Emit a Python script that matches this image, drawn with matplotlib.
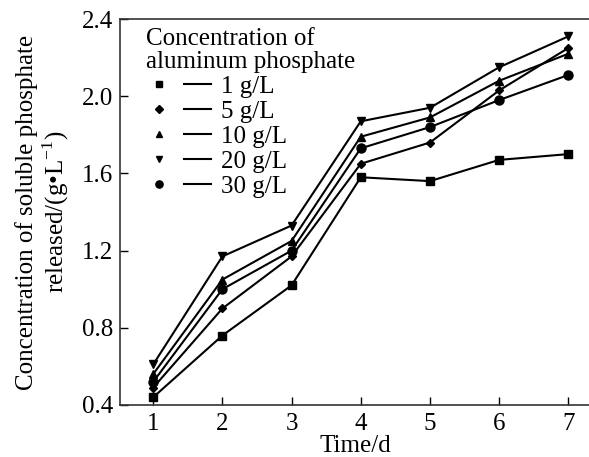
import numpy as np
import matplotlib.pyplot as plt
from matplotlib.lines import Line2D
from matplotlib.legend_handler import HandlerTuple

plt.rcParams['font.family'] = ['Liberation Serif', 'DejaVu Serif']
plt.rcParams['mathtext.fontset'] = 'custom'
plt.rcParams['mathtext.rm'] = 'Liberation Serif'

# data
days = [1, 2, 3, 4, 5, 6, 7]
c1 = [0.44, 0.76, 1.02, 1.58, 1.56, 1.67, 1.70]
c5 = [0.49, 0.90, 1.17, 1.65, 1.76, 2.03, 2.25]
c10 = [0.56, 1.05, 1.25, 1.79, 1.89, 2.08, 2.22]
c20 = [0.61, 1.17, 1.33, 1.87, 1.94, 2.15, 2.31]
c30 = [0.52, 1.00, 1.20, 1.73, 1.84, 1.98, 2.11]

series = [c1, c5, c10, c20, c30]
labels = ['1 g/L', '5 g/L', '10 g/L', '20 g/L', '30 g/L']
markers = ['s', 'D', '^', 'v', 'o']
msizes = [6, 4.5, 6, 6, 6.5]

fig = plt.figure(figsize=(5.89, 4.57), dpi=100)
ax = fig.add_axes([0.2037, 0.1138, 0.80, 0.8446])

handles = []
for y, lab, m, ms in zip(series, labels, markers, msizes):
    ax.plot(days, y, color='black', lw=1.5, marker=m, markersize=ms)
    h_m = Line2D([], [], color='black', marker=m, markersize=ms * 0.8, linestyle='none')
    h_l = Line2D([], [], color='black', lw=1.5)
    handles.append((h_m, h_l))

ax.set_xlim(0.52, 7.33)
ax.set_ylim(0.4, 2.4)
ax.set_xticks(days)
ax.set_yticks([0.4, 0.8, 1.2, 1.6, 2.0, 2.4])
ax.set_yticklabels(['0.4', '0.8', '1.2', '1.6', '2.0', '2.4'])
ax.tick_params(direction='in', length=6, width=1, labelsize=18, pad=5)
ax.tick_params(axis='x', pad=6)
ax.spines['right'].set_visible(False)
for s in ['left', 'top', 'bottom']:
    ax.spines[s].set_linewidth(1.2)
    ax.spines[s].set_color('#333333')

ax.set_xlabel('Time/d', fontsize=18, labelpad=0)
ax.set_ylabel('Concentration of soluble phosphate\nreleased/(g\u2022L$^{-1}$)',
              fontsize=18, labelpad=8, linespacing=1.1)

leg = ax.legend(handles, labels, handler_map={tuple: HandlerTuple(ndivide=None, pad=0.46)},
                title='Concentration of\naluminum phosphate', loc='upper left',
                bbox_to_anchor=(0.028, 1.01), frameon=False, fontsize=18,
                title_fontsize=18, handlelength=2.6, handletextpad=0.42,
                labelspacing=0.1, borderpad=0, alignment='left')
leg.get_title().set_linespacing(1.08)

fig.savefig('out.png', dpi=100)
